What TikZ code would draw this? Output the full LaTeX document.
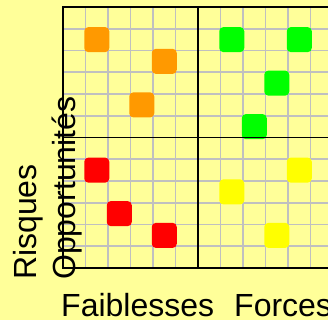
\documentclass[tikz,border=0pt]{standalone}
\usepackage{fontspec}
\setmainfont{Liberation Sans}
\usetikzlibrary{positioning}

\definecolor{paper}{HTML}{FFFF99}
\definecolor{gridgray}{HTML}{C0C0C0}
\definecolor{orangesq}{HTML}{FF9900}
\definecolor{greensq}{HTML}{00FF00}
\definecolor{redsq}{HTML}{FF0000}
\definecolor{yellowsq}{HTML}{FFFF00}

\begin{document}
\begin{tikzpicture}[
  x=1pt, y=-1pt,
  square/.style={rectangle, rounded corners=4pt, minimum size=25pt, inner sep=0pt},
  gridline/.style={gridgray, line width=1.6pt},
  axisline/.style={black, line width=2pt},
  label/.style={inner sep=0pt, font=\fontsize{32}{36}\selectfont}
]
  \fill[paper] (0,0) rectangle (328,320);
  \useasboundingbox (0,0) rectangle (328,320);

  % grid
  \foreach \i in {1,...,11}
    \draw[gridline] ({63+22.5*\i},7) -- ({63+22.5*\i},268);
  \foreach \j in {1,...,11}
    \draw[gridline] (63,{7+21.75*\j}) -- (328,{7+21.75*\j});

  % points (column/row of the cell)
  \foreach \c/\r/\col/\nm in {1/1/orangesq/o1, 4/2/orangesq/o2, 3/4/orangesq/o3,
      7/1/greensq/g1, 10/1/greensq/g2, 9/3/greensq/g3, 8/5/greensq/g4,
      1/7/redsq/r1, 2/9/redsq/r2, 4/10/redsq/r3,
      7/8/yellowsq/y1, 10/7/yellowsq/y2, 9/10/yellowsq/y3}
    \node[square, fill=\col] (\nm) at ({63+22.5*(\c+0.5)},{7+21.75*(\r+0.5)}) {};

  % axes
  \coordinate (tl) at (63,7);
  \coordinate (tr) at (328,7);
  \coordinate (bl) at (63,268);
  \coordinate (br) at (328,268);
  \coordinate (mt) at (198,7);
  \coordinate (mb) at (198,268);
  \coordinate (ml) at (63,137.5);
  \coordinate (mr) at (328,137.5);
  \draw[axisline] (tr) -- (tl) -- (bl) -- (br);
  \draw[axisline] (mt) -- (mb);
  \draw[axisline, line width=1.6pt] (ml) -- (mr);

  % labels
  \node[label, anchor=base west] (faible) at (61,316) {Faiblesses};
  \node[label, anchor=base west] (force) at (234,316) {Forces};
  \node[label, rotate=90, anchor=base west] (risque) at (36,280) {Risques};
  \node[label, rotate=90, anchor=base west] (oppor) at (75.5,280) {Opportunités};
\end{tikzpicture}
\end{document}
